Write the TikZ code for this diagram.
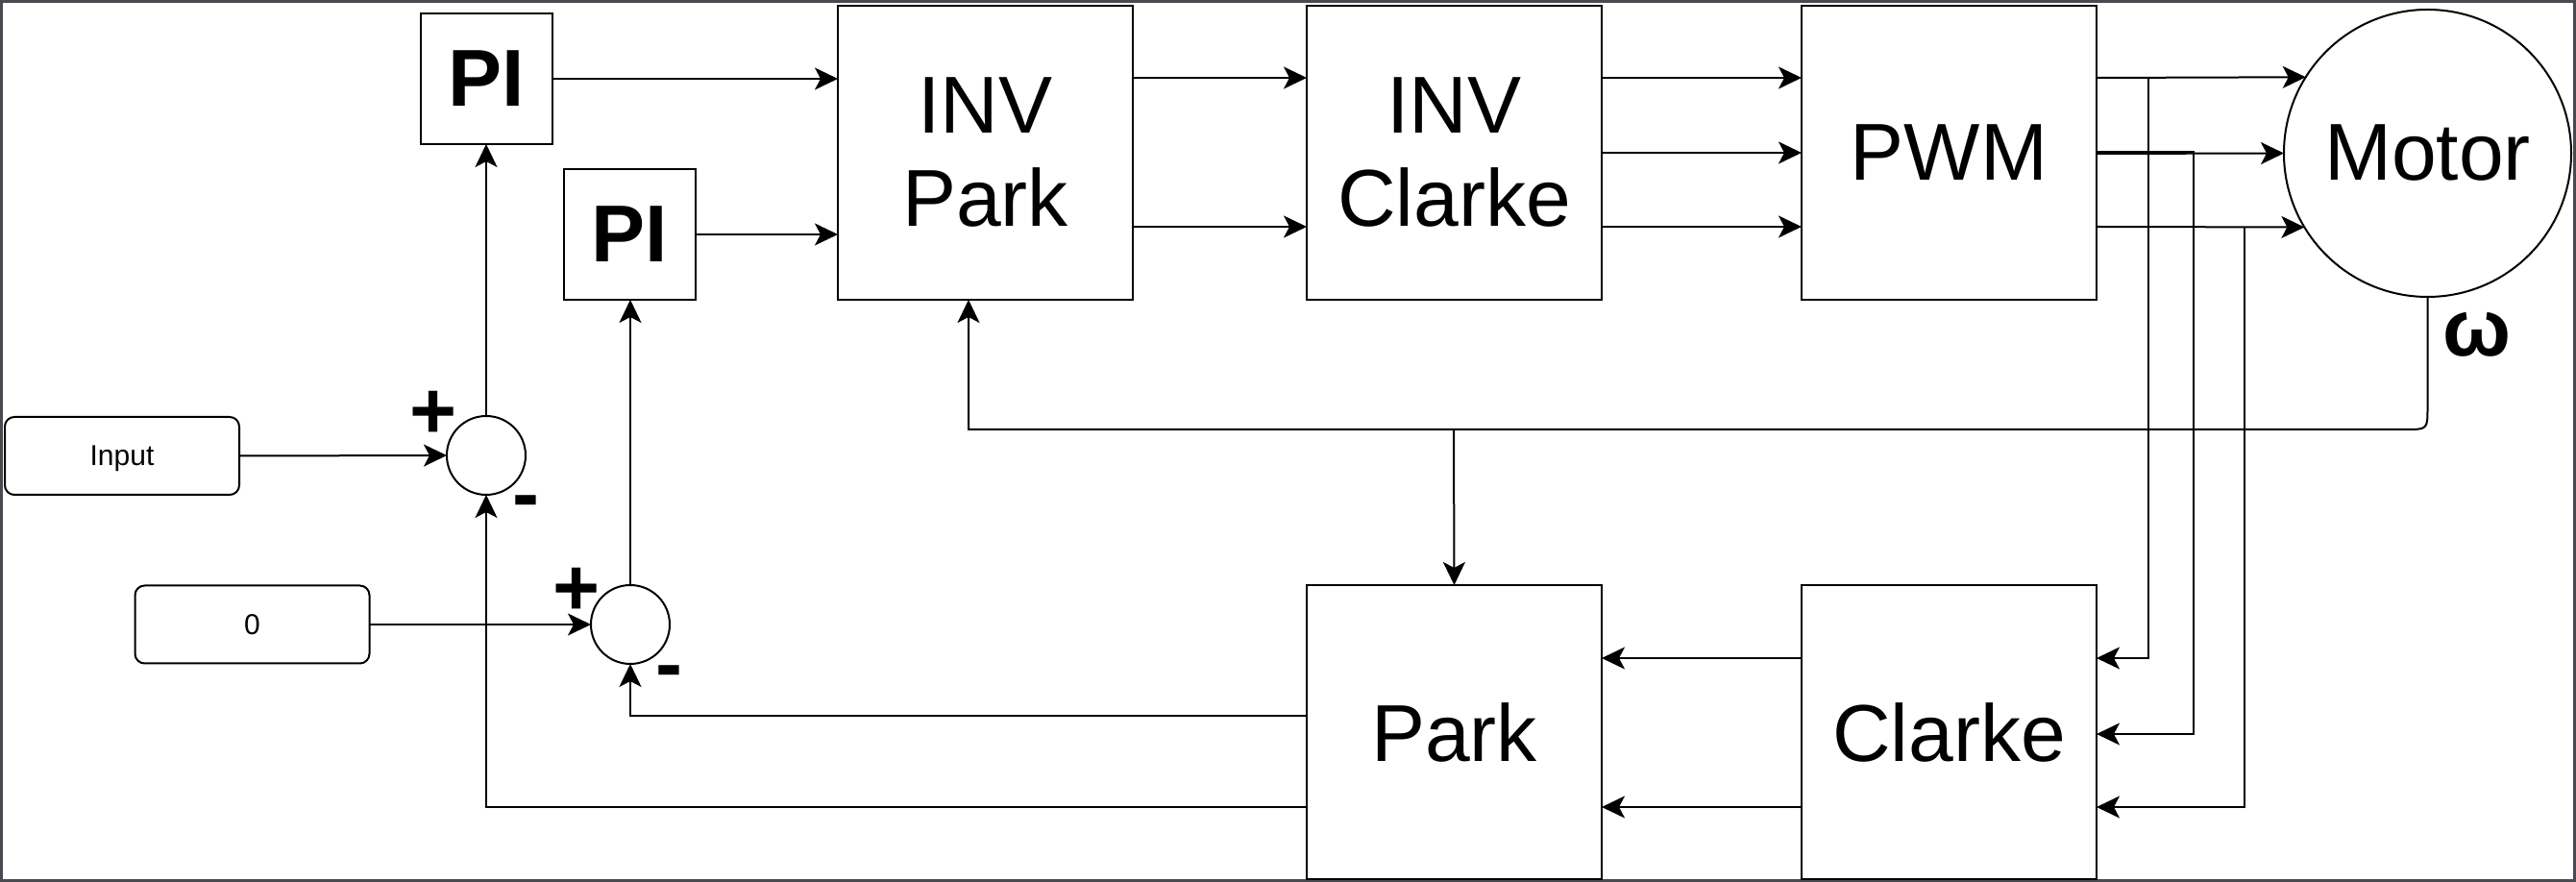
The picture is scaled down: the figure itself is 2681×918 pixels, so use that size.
\documentclass[tikz,border=0pt]{standalone}
\usepackage{fontspec}
\setmainfont{Liberation Sans}
\usetikzlibrary{arrows.meta,calc}
\definecolor{framec}{HTML}{474B51}
\begin{document}
\begin{tikzpicture}[x=0.25pt,y=-0.25pt,
  bigtxt/.style={font=\fontsize{21}{24.25}\selectfont},
  blk/.style={draw, line width=0.5pt, minimum width=76.75pt, minimum height=76.5pt, inner sep=0pt, outer sep=0pt, align=center, bigtxt},
  pibox/.style={draw, line width=0.5pt, minimum width=34.25pt, minimum height=34pt, inner sep=0pt, outer sep=0pt, font=\fontsize{21}{24.25}\selectfont\bfseries},
  src/.style={draw, line width=0.5pt, rounded corners=2.5pt, minimum width=61pt, minimum height=20.25pt, inner sep=0pt, outer sep=0pt, text depth=0pt, font=\fontsize{7.5}{9}\selectfont},
  sumc/.style={draw, circle, line width=0.5pt, minimum size=20.5pt, inner sep=0pt, outer sep=0pt},
  sgn/.style={anchor=base, inner sep=0pt, font=\fontsize{21}{24}\selectfont\bfseries},
  conn/.style={line width=0.5pt},
  arr/.style={conn, -{Stealth[length=6pt, width=5.75pt, inset=1.5pt]}},
]
\useasboundingbox (0,0) rectangle (2681,918);
\draw[framec, line width=0.7pt] (1.4,1.4) rectangle (2679.6,916.6);

% blocks
\node[pibox] (pi1) at (506.5,82) {PI};
\node[pibox] (pi2) at (655,244) {PI};
\node[blk] (invpark) at (1025.5,159) {INV\\Park};
\node[blk] (invclarke) at (1513.5,159) {INV\\Clarke};
\node[blk] (pwm) at (2028.5,159) {PWM};
\node[draw, circle, line width=0.5pt, minimum size=74.75pt, inner sep=0pt, outer sep=0pt, bigtxt] (motor) at (2526.5,159.5) {Motor};
\node[blk] (park) at (1513.5,762) {Park};
\node[blk] (clarke) at (2028.5,762) {Clarke};
\node[src] (input) at (127,474.5) {Input};
\node[src] (zero) at (262.5,650) {0};
\node[sumc] (s1) at (506,474) {};
\node[sumc] (s2) at (656,650) {};

% signs and labels
\node[sgn] (p1) at (451,457) {+};
\node[sgn] (m1) at (547,543) {-};
\node[sgn] (p2) at (600,641) {+};
\node[sgn] (m2) at (696,720) {-};
\node[sgn] (om) at (2578,371) {ω};

% forward path
\draw[arr] (pi1.east) -- (pi1.east -| invpark.west);
\draw[arr] (pi2.east) -- (pi2.east -| invpark.west);
\draw[arr] ($(invpark.east)+(0,-78)$) -- ($(invclarke.west)+(0,-78)$);
\draw[arr] ($(invpark.east)+(0,77)$) -- ($(invclarke.west)+(0,77)$);
\draw[arr] ($(invclarke.east)+(0,-78)$) -- ($(pwm.west)+(0,-78)$);
\draw[arr] (invclarke.east) -- (pwm.west);
\draw[arr] ($(invclarke.east)+(0,77)$) -- ($(pwm.west)+(0,77)$);
\draw[arr] ($(pwm.east)+(0,-78)$) -- (motor.148.5);
\draw[arr] ($(pwm.east)+(0,1)$) -- (motor.west);
\draw[arr] ($(pwm.east)+(0,77)$) -- (motor.211.5);

% current taps
\coordinate (t1) at (2236,81);
\coordinate (t2) at (2283,158);
\coordinate (t3) at (2336,236);
\draw[arr] ($(pwm.east)+(0,-78)$) -- (t1) |- ($(clarke.east)+(0,-77)$);
\draw[arr] ($(pwm.east)+(0,-1)$) -- (t2) |- ($(clarke.east)+(0,2)$);
\draw[arr] (t3) |- ($(clarke.east)+(0,78)$);

% Clarke -> Park
\draw[arr] ($(clarke.west)+(0,-77)$) -- ($(park.east)+(0,-77)$);
\draw[arr] ($(clarke.west)+(0,78)$) -- ($(park.east)+(0,78)$);

% Park -> summing junctions
\draw[arr] ($(park.west)+(0,-17)$) -| (s2.south);
\draw[arr] ($(park.west)+(0,78)$) -| (s1.south);

% references -> summing junctions -> PI
\draw[arr] (input.east) -- (s1.west);
\draw[arr] (zero.east) -- (s2.west);
\draw[arr] (s1.north) -- (s1.north |- pi1.south);
\draw[arr] (s2.north) -- (s2.north |- pi2.south);

% speed/angle feedback
\coordinate (fbc) at (2526.5,447);
\coordinate (fbl) at (1008,447);
\coordinate (fbp) at (1513,447);
\draw[arr] (motor.south) -- (2526.5,424) .. controls (fbc) .. (2503.5,447) -- (fbl) -- (fbl |- invpark.south);
\draw[arr] (fbp) -- (park.north);
\end{tikzpicture}
\end{document}
